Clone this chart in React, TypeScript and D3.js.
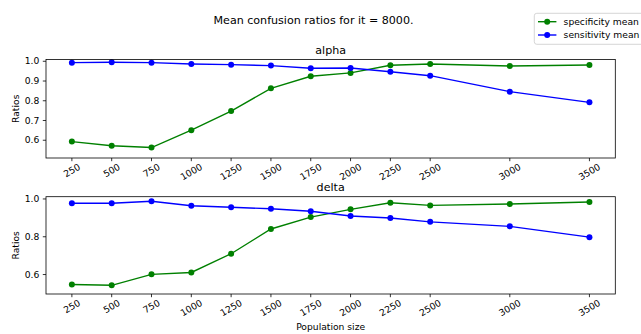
import React from "react";
import * as d3 from "d3";

const popSizes = [250, 500, 750, 1000, 1250, 1500, 1750, 2000, 2250, 2500, 3000, 3500];
const alphaSpecificity = [0.593, 0.572, 0.563, 0.651, 0.748, 0.863, 0.924, 0.941, 0.980, 0.986, 0.976, 0.981];
const alphaSensitivity = [0.993, 0.995, 0.993, 0.986, 0.983, 0.978, 0.965, 0.966, 0.947, 0.927, 0.846, 0.792];
const deltaSpecificity = [0.547, 0.543, 0.601, 0.611, 0.710, 0.841, 0.904, 0.945, 0.980, 0.966, 0.973, 0.984];
const deltaSensitivity = [0.977, 0.977, 0.988, 0.964, 0.956, 0.948, 0.935, 0.910, 0.899, 0.879, 0.855, 0.798];
const alphaYTicks = [0.6, 0.7, 0.8, 0.9, 1.0];
const deltaYTicks = [0.6, 0.8, 1.0];
const seriesNames = ["specificity mean", "sensitivity mean"];
const seriesColors = ["green", "blue"];

const W = 641;
const H = 334;
const FONT = "DejaVu Sans";
const FS = 9.2;
const LEFT = 46;
const RIGHT = 615.3;
const ROT = 30;

const x = d3.scaleLinear().domain([87.5, 3662.5]).range([LEFT, RIGHT]);

type PanelProps = {
  title: string;
  top: number;
  bottom: number;
  yDomain: [number, number];
  yTicks: number[];
  spec: number[];
  sens: number[];
  xLabel?: string;
};

function Panel({ title, top, bottom, yDomain, yTicks, spec, sens, xLabel }: PanelProps) {
  const y = d3.scaleLinear().domain(yDomain).range([bottom, top]);
  const line = d3
    .line<number>()
    .x((_, i) => x(popSizes[i]))
    .y((d) => y(d));
  const a = (ROT * Math.PI) / 180;
  const series = [spec, sens];
  return (
    <g>
      <text x={(LEFT + RIGHT) / 2} y={top - 5.5} textAnchor="middle" fontSize={11.1} fontFamily={FONT}>
        {title}
      </text>
      {series.map((s, k) => (
        <g key={k}>
          <path d={line(s) || ""} fill="none" stroke={seriesColors[k]} strokeWidth={1.4} />
          {s.map((v, i) => (
            <circle key={i} cx={x(popSizes[i])} cy={y(v)} r={3} fill={seriesColors[k]} />
          ))}
        </g>
      ))}
      <rect x={LEFT} y={top} width={RIGHT - LEFT} height={bottom - top} fill="none" stroke="#000" strokeWidth={0.8} />
      {yTicks.map((t) => (
        <g key={t}>
          <line x1={LEFT - 3.2} x2={LEFT} y1={y(t)} y2={y(t)} stroke="#000" strokeWidth={0.8} />
          <text x={LEFT - 6.6} y={y(t)} dy="0.35em" textAnchor="end" fontSize={FS} fontFamily={FONT}>
            {t.toFixed(1)}
          </text>
        </g>
      ))}
      {popSizes.map((p) => {
        const label = String(p);
        const w = label.length * 0.636 * FS;
        const half = (w * Math.sin(a) + 6.7 * Math.cos(a)) / 2;
        const cy = bottom + 5 + half;
        return (
          <g key={p}>
            <line x1={x(p)} x2={x(p)} y1={bottom} y2={bottom + 3.2} stroke="#000" strokeWidth={0.8} />
            <text
              transform={`translate(${x(p)},${cy}) rotate(${-ROT})`}
              textAnchor="middle"
              dy="0.35em"
              fontSize={FS}
              fontFamily={FONT}
            >
              {label}
            </text>
          </g>
        );
      })}
      <text
        transform={`translate(15.5,${(top + bottom) / 2}) rotate(-90)`}
        textAnchor="middle"
        dy="0.35em"
        fontSize={FS}
        fontFamily={FONT}
      >
        Ratios
      </text>
      {xLabel ? (
        <text x={(LEFT + RIGHT) / 2} y={330} textAnchor="middle" fontSize={FS} fontFamily={FONT}>
          {xLabel}
        </text>
      ) : null}
    </g>
  );
}

export default function App() {
  const lx = 534.3;
  const rows = [21.7, 35];
  return (
    <svg
      width={W}
      height={H}
      style={{ position: "absolute", left: 0, top: 0, background: "#fff", overflow: "hidden" }}
    >
      <rect x={0} y={0} width={W} height={H} fill="#fff" />
      <text x={313.5} y={24} textAnchor="middle" fontSize={11.1} fontFamily={FONT}>
        Mean confusion ratios for it = 8000.
      </text>
      <Panel
        title="alpha"
        top={59.5}
        bottom={158}
        yDomain={[0.51, 1.009]}
        yTicks={alphaYTicks}
        spec={alphaSpecificity}
        sens={alphaSensitivity}
      />
      <Panel
        title="delta"
        top={196.7}
        bottom={294}
        yDomain={[0.497, 1.012]}
        yTicks={deltaYTicks}
        spec={deltaSpecificity}
        sens={deltaSensitivity}
        xLabel="Population size"
      />
      <g>
        <rect x={lx} y={13.3} width={130} height={31} rx={2.5} fill="#fff" fillOpacity={0.8} stroke="#ccc" strokeWidth={0.8} />
        {seriesNames.map((n, k) => (
          <g key={n}>
            <line x1={lx + 3.7} x2={lx + 22.1} y1={rows[k]} y2={rows[k]} stroke={seriesColors[k]} strokeWidth={1.4} />
            <circle cx={lx + 12.9} cy={rows[k]} r={3} fill={seriesColors[k]} />
            <text x={lx + 29.3} y={rows[k]} dy="0.35em" fontSize={FS} fontFamily={FONT}>
              {n}
            </text>
          </g>
        ))}
      </g>
    </svg>
  );
}
